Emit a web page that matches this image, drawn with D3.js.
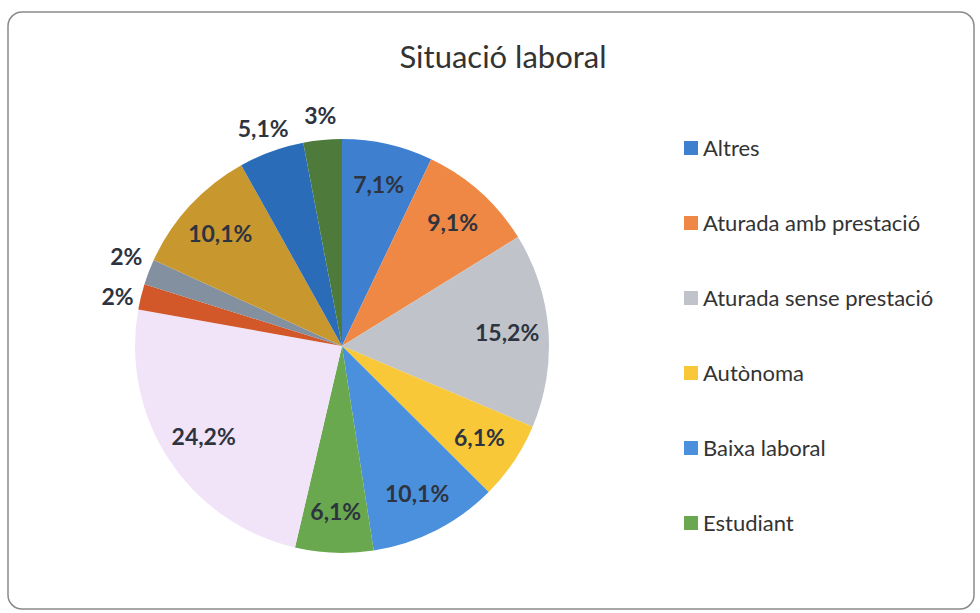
<!DOCTYPE html>
<html>
<head>
<meta charset="utf-8">
<script src="https://cdn.jsdelivr.net/npm/d3@7"></script>
<style>
  body { margin: 0; background: #fff; }
  svg { display: block; }
</style>
</head>
<body>
<div id="chart"></div>
<script>
// categories in pie order (clockwise from 12 o'clock); only the first six show in the legend
const categories = [
    "Altres", "Aturada amb prestació", "Aturada sense prestació", "Autònoma",
    "Baixa laboral", "Estudiant", "Categoria 7", "Categoria 8", "Categoria 9",
    "Categoria 10", "Categoria 11", "Categoria 12"
]
const values = [7.1, 9.1, 15.2, 6.1, 10.1, 6.1, 24.2, 2, 2, 10.1, 5.1, 3]
const labels = ["7,1%", "9,1%", "15,2%", "6,1%", "10,1%", "6,1%", "24,2%", "2%", "2%", "10,1%", "5,1%", "3%"]
const legendCount = 6

const colors = [
    "#3f7fd0", "#ee8844", "#c0c4ca", "#f8c838", "#4a90dc", "#6aa84f",
    "#f2e4f8", "#d2582a", "#8290a0", "#c8982e", "#2b6cb8", "#4e7a3c"
]

const width = 980
const height = 613
const cx = 342
const cy = 346
const radius = 207

const svg = d3.select('#chart').append('svg').attr('width', width).attr('height', height)

svg.append('rect')
    .attr('x', 8).attr('y', 12)
    .attr('width', 966).attr('height', 597)
    .attr('rx', 14)
    .attr('fill', '#fff')
    .attr('stroke', '#8a8a8a')
    .attr('stroke-width', 1.5)

svg.append('text')
    .attr('x', 503).attr('y', 68)
    .attr('text-anchor', 'middle')
    .attr('font-family', 'Lato, sans-serif')
    .attr('font-size', '31px')
    .attr('fill', '#333')
    .text('Situació laboral')

const color = d3.scaleOrdinal().domain(categories).range(colors)

const pie = d3.pie().sort(null).value(function(d) { return d.value })
const data = categories.map(function(c, i) {
    return { name: c, value: values[i], label: labels[i] }
})
const arcs = pie(data)

const arc = d3.arc().innerRadius(0).outerRadius(radius)
const inside = d3.arc().innerRadius(radius * 0.8).outerRadius(radius * 0.8)
const outside = d3.arc().innerRadius(radius + 24).outerRadius(radius + 24)

const g = svg.append('g').attr('transform', 'translate(' + cx + ',' + cy + ')')

g.selectAll('path').data(arcs)
    .enter()
    .append('path')
    .attr('d', arc)
    .attr('fill', function(d) { return color(d.data.name) })

// label positions: small slices outside (Excel best fit), then push apart close neighbours
const pos = arcs.map(function(d) {
    const p = d.data.value < 6 ? outside.centroid(d) : inside.centroid(d)
    return { x: p[0], y: p[1], out: d.data.value < 6 }
})
for (let i = 1; i < pos.length; i++) {
    const a = pos[i - 1], b = pos[i]
    if (a.out && b.out && Math.abs(a.x - b.x) < 40 && Math.abs(a.y - b.y) < 40) {
        const shift = (40 - Math.abs(a.y - b.y)) / 2
        if (a.y > b.y) { a.y += shift; b.y -= shift } else { a.y -= shift; b.y += shift }
    }
}

g.selectAll('text.lbl').data(arcs)
    .enter()
    .append('text')
    .attr('class', 'lbl')
    .attr('x', function(d, i) { return pos[i].x })
    .attr('y', function(d, i) { return pos[i].y })
    .attr('text-anchor', 'middle')
    .attr('dy', '0.35em')
    .attr('font-family', 'Lato, sans-serif')
    .attr('font-weight', 'bold')
    .attr('font-size', '23px')
    .attr('fill', '#2e3340')
    .text(function(d) { return d.data.label })

const legend = svg.append('g').attr('transform', 'translate(684,148)')
const items = legend.selectAll('g').data(categories.slice(0, legendCount))
    .enter()
    .append('g')
    .attr('transform', function(d, i) { return 'translate(0,' + (i * 75) + ')' })

items.append('rect')
    .attr('x', 0).attr('y', -7)
    .attr('width', 14).attr('height', 14)
    .attr('fill', function(d) { return color(d) })

items.append('text')
    .attr('x', 19).attr('dy', '0.35em')
    .attr('font-family', 'Lato, sans-serif')
    .attr('font-size', '22px')
    .attr('fill', '#333')
    .text(function(d) { return d })
</script>
</body>
</html>
